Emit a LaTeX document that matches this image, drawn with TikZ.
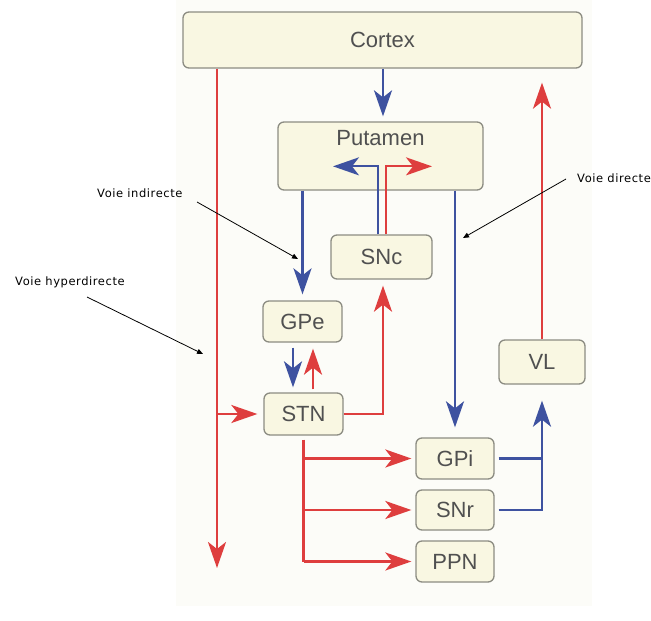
\documentclass[tikz,border=0pt]{standalone}
\usepackage{fontspec}
\setmainfont{Liberation Sans}
\newfontfamily\notefont[LetterSpace=5]{DejaVu Sans}
\usetikzlibrary{arrows.meta}
\definecolor{bred}{RGB}{222,62,62}
\definecolor{bblue}{RGB}{62,82,160}
\definecolor{boxfill}{RGB}{249,247,226}
\definecolor{boxline}{RGB}{140,140,130}
\definecolor{boxtext}{RGB}{80,80,80}
\definecolor{bgcream}{RGB}{252,252,248}
\begin{document}
\begin{tikzpicture}[x=1pt,y=-1pt,
  box/.style={draw=boxline,line width=1.3pt,fill=boxfill,rounded corners=6pt,inner sep=0pt,
    text=boxtext,font=\fontsize{22}{26}\selectfont},
  lbl/.style={inner sep=0pt,text=boxtext,font=\fontsize{22}{26}\selectfont},
  big/.style={-{Stealth[length=26pt,width=18pt,inset=7pt]}},
  rline/.style={draw=bred,line width=2.6pt},
  bline/.style={draw=bblue,line width=2.6pt},
  note/.style={inner sep=0pt,font=\notefont\fontsize{11.5}{13}\selectfont,anchor=west},
  notearr/.style={draw=black,line width=0.8pt,-{Triangle[length=6pt,width=5pt]}}]
\useasboundingbox (0,0) rectangle (651,621);
\fill[white] (0,0) rectangle (651,621);
\fill[bgcream] (176,0) rectangle (592,606);

\node[box,minimum width=399pt,minimum height=56pt] (cortex) at (382.5,40) {Cortex};
\node[box,minimum width=205pt,minimum height=68pt] (put) at (380.5,156) {};
\node[lbl] (putlbl) at (380.5,138) {Putamen};
\node[box,minimum width=101pt,minimum height=44pt] (snc) at (381.5,257) {SNc};
\node[box,minimum width=79pt,minimum height=41pt] (gpe) at (302.5,321.5) {GPe};
\node[box,minimum width=79pt,minimum height=42pt] (stn) at (303.5,414) {STN};
\node[box,minimum width=86pt,minimum height=44pt] (vl) at (542,362) {VL};
\node[box,minimum width=78pt,minimum height=41pt] (gpi) at (455,458.5) {GPi};
\node[box,minimum width=78pt,minimum height=40pt] (snr) at (455,510) {SNr};
\node[box,minimum width=78pt,minimum height=41pt] (ppn) at (455,561.5) {PPN};

\coordinate (hypend) at (217,568);
\coordinate (hypx) at (217,0);

% Cortex -> Putamen
\draw[bline,big] ([xshift=0.5pt]cortex.south) -- ([xshift=2.5pt,yshift=5pt]put.north);
% hyperdirect
\draw[rline,big] (cortex.south -| hypx) -- (hypend);
\draw[rline,big] (hypend |- stn.west) -- ([xshift=-6pt]stn.west);
% indirect
\draw[bline,big] (put.south -| gpe) -- ([yshift=6pt]gpe.north);
\draw[bline,big] ([xshift=-9.5pt,yshift=-5pt]gpe.south) -- ([xshift=-10.5pt,yshift=5pt]stn.north);
\draw[rline,big] ([xshift=9.5pt,yshift=3pt]stn.north) -- ([xshift=10.5pt,yshift=-6pt]gpe.south);
% STN -> SNc
\draw[rline,big] (stn.east) -| ([xshift=1.5pt,yshift=-6pt]snc.south);
% SNc -> putamen
\draw[bline,line width=2.2pt,big] ([xshift=-3.5pt]snc.north) -- ++(0,-68) -- ++(-45,0);
\draw[rline,line width=2.2pt,big] ([xshift=4.5pt]snc.north) -- ++(0,-68) -- ++(46,0);
% direct
\draw[bline,big] (put.south -| gpi) -- ([yshift=10pt]gpi.north);
% STN outputs
\draw[rline] ([yshift=-4pt]stn.south) -- (stn.south |- ppn.west);
\draw[rline,big] (stn.south |- ppn.west) -- ([xshift=-4pt]ppn.west);
\draw[rline,big] (stn.south |- gpi.west) -- ([xshift=-4pt]gpi.west);
\draw[rline,big] (stn.south |- snr.west) -- ([xshift=-4pt]snr.west);
% GPi / SNr -> VL
\draw[bline] ([xshift=4pt]gpi.east) -- (gpi.east -| vl.south);
\draw[bline,big] ([xshift=4pt]snr.east) -| ([yshift=-16pt]vl.south);
% VL -> Cortex
\draw[rline,big] (vl.north) -- ([yshift=-14pt]vl.north |- cortex.south);

% notes
\node[note] (nind) at (97,193) {Voie indirecte};
\node[note] (nhyp) at (15,282) {Voie hyperdirecte};
\node[note] (ndir) at (577,178) {Voie directe};
\coordinate (tind) at (298,259);
\coordinate (thyp) at (203,354);
\coordinate (tdir) at (463,238);
\draw[notearr] (197,202) -- (tind);
\draw[notearr] (87,297) -- (thyp);
\draw[notearr] (566,179) -- (tdir);
\end{tikzpicture}
\end{document}
